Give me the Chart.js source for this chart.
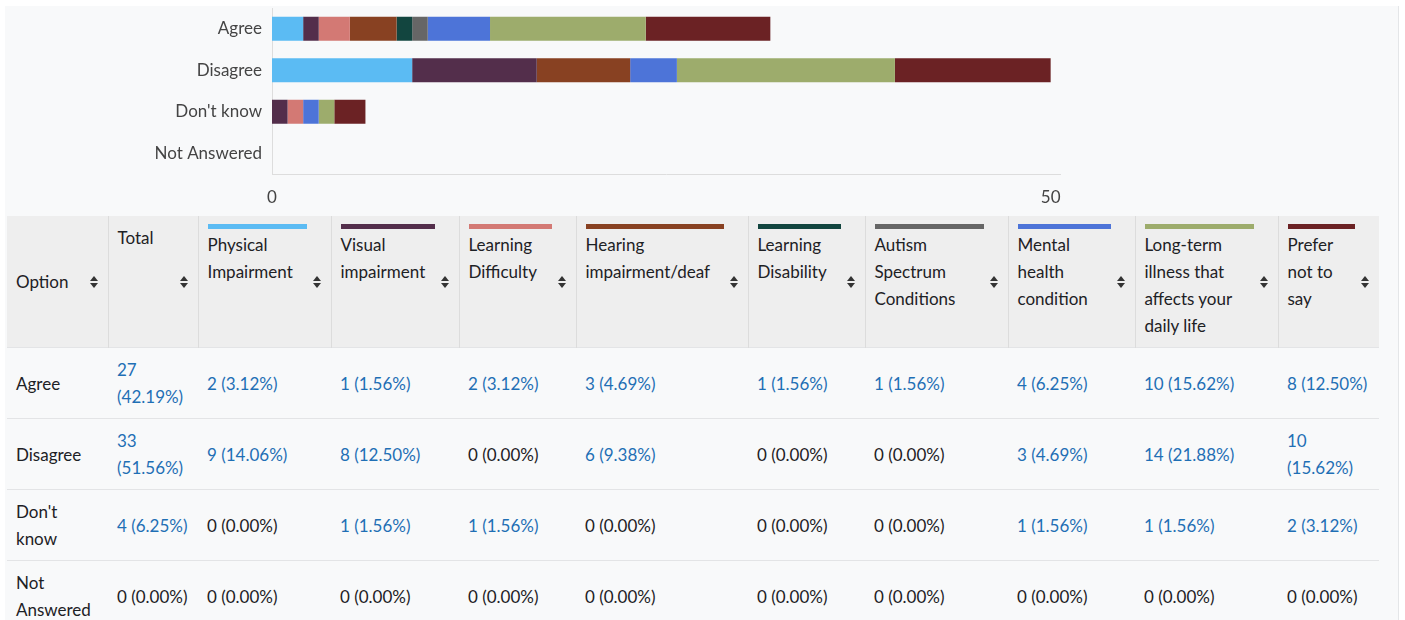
<!DOCTYPE html>
<html>
<head>
<meta charset="utf-8">
<script src="https://cdn.jsdelivr.net/npm/chart.js@4.4.1/dist/chart.umd.min.js"></script>
<style>
  html, body { margin: 0; padding: 0; background: #fff; }
  body { width: 1405px; height: 620px; overflow: hidden; position: relative; font-family: Lato, "Noto Sans", sans-serif; }
  #page { position: absolute; left: 5px; top: 6px; width: 1393px; height: 640px; background: #f8f9fa; border-right: 1px solid #e4e6e8; }
  #chartBox { position: absolute; left: 0; top: 0; width: 1405px; height: 212px; }
  #tbl { position: absolute; left: 7px; top: 216px; border-collapse: collapse; table-layout: fixed; width: 1372px; font-size: 17px; line-height: 27px; color: #1d2125; }
  #tbl th { background: #eeeeee; font-weight: normal; text-align: left; vertical-align: top; padding: 8px 24px 8px 9px; border-left: 1px solid #dcdcdc; position: relative; }
  #tbl th:first-child { vertical-align: middle; border-left: none; }
  #tbl th .bar { height: 5px; margin-bottom: 2px; }
  #tbl th .sort { position: absolute; right: 10px; top: 50%; width: 8px; height: 12px; margin-top: -6px; }
  #tbl th .sort:before, #tbl th .sort:after { content: ""; position: absolute; left: 0; border-left: 4px solid transparent; border-right: 4px solid transparent; }
  #tbl th .sort:before { top: 0; border-bottom: 5px solid #333; }
  #tbl th .sort:after { bottom: 0; border-top: 5px solid #333; }
  #tbl td { padding: 8px 6px 8px 9px; vertical-align: middle; border-top: 1px solid #e3e4e6; background: #f8f9fa; }
  #tbl td:first-child { padding-right: 16px; }
  #tbl td a { color: #1f6fb5; text-decoration: none; }
</style>
</head>
<body>
<div id="page"></div>
<div id="chartBox"><canvas id="surveyChart"></canvas></div>
<table id="tbl"></table>
<script>
// Survey question answers, counted per disability group
const options = ['Agree', 'Disagree', "Don't know", 'Not Answered'];
const groups = [
  'Physical Impairment', 'Visual impairment', 'Learning Difficulty', 'Hearing impairment/deaf',
  'Learning Disability', 'Autism Spectrum Conditions', 'Mental health condition',
  'Long-term illness that affects your daily life', 'Prefer not to say'
];
const groupColors = ['#5bbbf3', '#532e4b', '#d37974', '#884122', '#12453f', '#666666', '#4d74d8', '#9dac6c', '#6b2224'];

const physical   = [2, 9, 0, 0];
const visual     = [1, 8, 1, 0];
const learnDiff  = [2, 0, 1, 0];
const hearing    = [3, 6, 0, 0];
const learnDis   = [1, 0, 0, 0];
const autism     = [1, 0, 0, 0];
const mental     = [4, 3, 1, 0];
const longTerm   = [10, 14, 1, 0];
const preferNot  = [8, 10, 2, 0];
const totals     = [27, 33, 4, 0];
const respondents = 64;
const xTicks = [0, 50];

const seriesValues = [physical, visual, learnDiff, hearing, learnDis, autism, mental, longTerm, preferNot];

// Chart.js setup
const ctx = document.getElementById('surveyChart').getContext('2d');
const surveyChart = new Chart(ctx, {
  type: 'bar',
  data: {
    labels: options,
    datasets: groups.map((name, i) => ({
      label: name,
      data: seriesValues[i],
      backgroundColor: groupColors[i],
      borderWidth: 0,
      inflateAmount: 0,
      barThickness: 24
    }))
  },
  options: {
    indexAxis: 'y',
    responsive: true,
    maintainAspectRatio: false,
    animation: false,
    layout: { padding: { top: 8, right: 345, left: 0, bottom: 0 } },
    plugins: { legend: { display: false } },
    scales: {
      x: {
        stacked: true,
        min: 0,
        max: 50.6,
        grid: { display: false, drawTicks: false },
        border: { color: '#dddddd' },
        afterBuildTicks: (scale) => { scale.ticks = xTicks.map(v => ({ value: v })); },
        afterFit: (scale) => { scale.height = 38; scale.paddingLeft = 0; scale.paddingRight = 0; },
        ticks: { padding: 13, color: '#444', font: { family: 'Lato', size: 17 } }
      },
      y: {
        stacked: true,
        grid: { display: false, drawTicks: false },
        border: { color: '#dddddd' },
        afterFit: (scale) => { scale.width = 272; scale.paddingTop = 0; scale.paddingBottom = 0; },
        ticks: { padding: 10, color: '#444', font: { family: 'Lato', size: 17 } }
      }
    }
  }
});

// Percentages are shown with round-half-even, like the source table
const pct = (n) => {
  const x = n / respondents * 10000;
  let r = Math.round(x);
  if (x - Math.floor(x) === 0.5 && Math.floor(x) % 2 === 0) r = Math.floor(x);
  return (r / 100).toFixed(2);
};
const cell = (n) => {
  const txt = `${n} (${pct(n)}%)`;
  return n > 0 ? `<a href="#">${txt}</a>` : txt;
};

// Build the table below the chart
const colWidths = [101, 90, 133, 128, 117, 172, 117, 143, 127, 143, 101];
let html = '<colgroup>' + colWidths.map(w => `<col style="width:${w}px">`).join('') + '</colgroup>';
html += '<tr><th>Option<span class="sort"></span></th><th>Total<span class="sort"></span></th>';
groups.forEach((name, i) => {
  html += `<th><div class="bar" style="background:${groupColors[i]}"></div>${name}<span class="sort"></span></th>`;
});
html += '</tr>';
options.forEach((opt, r) => {
  html += `<tr><td>${opt}</td><td>${cell(totals[r])}</td>`;
  seriesValues.forEach(vals => { html += `<td>${cell(vals[r])}</td>`; });
  html += '</tr>';
});
document.getElementById('tbl').innerHTML = html;
</script>
</body>
</html>
